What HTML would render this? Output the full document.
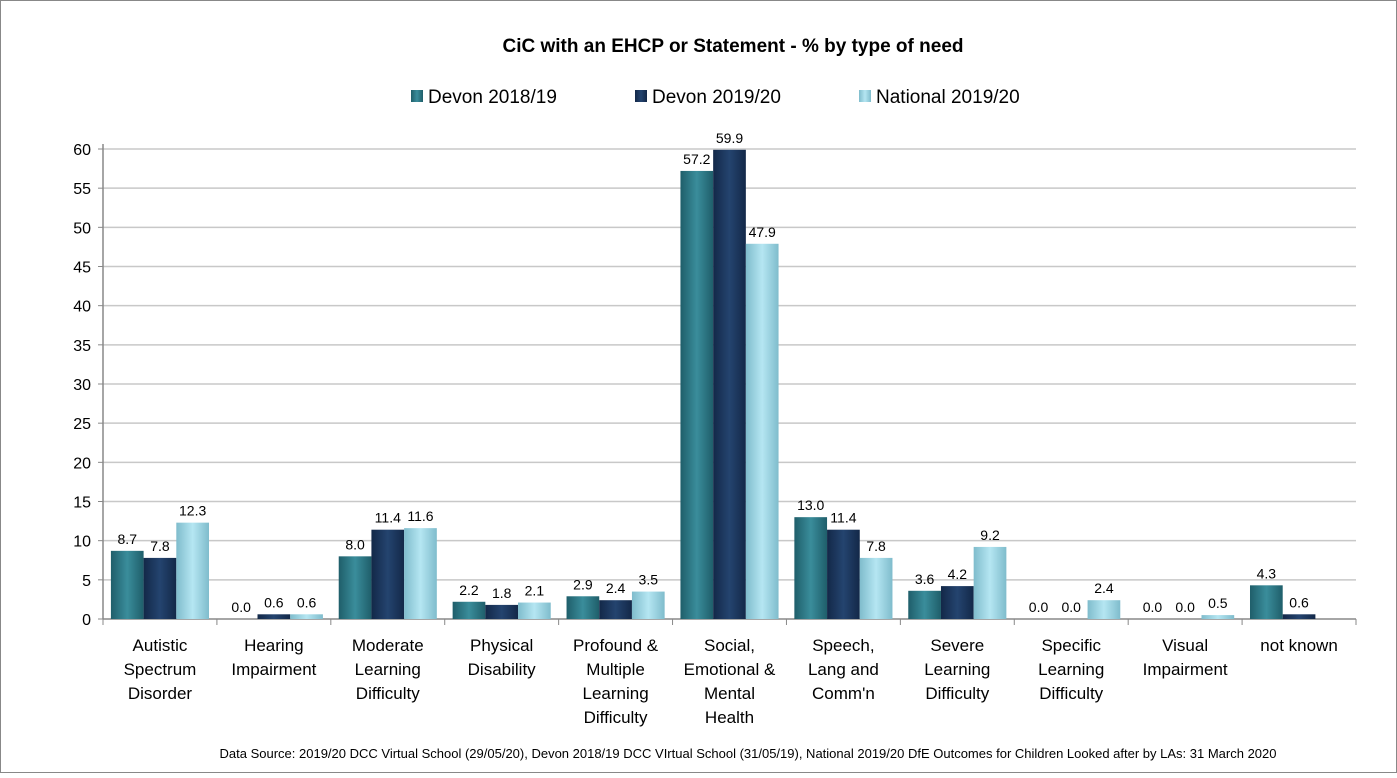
<!DOCTYPE html>
<html><head><meta charset="utf-8"><style>
body{margin:0;background:#fff;font-family:"Liberation Sans",sans-serif;}
svg text{font-family:"Liberation Sans",sans-serif;}
</style></head><body>
<svg id="chart" width="1397" height="773" viewBox="0 0 1397 773" xmlns="http://www.w3.org/2000/svg">
<defs>
<linearGradient id="g0" x1="0" x2="1" y1="0" y2="0"><stop offset="0" stop-color="#1f5e6a"/><stop offset="0.5" stop-color="#3a8d9b"/><stop offset="1" stop-color="#1f5e6a"/></linearGradient>
<linearGradient id="g1" x1="0" x2="1" y1="0" y2="0"><stop offset="0" stop-color="#132848"/><stop offset="0.5" stop-color="#24446f"/><stop offset="1" stop-color="#132848"/></linearGradient>
<linearGradient id="g2" x1="0" x2="1" y1="0" y2="0"><stop offset="0" stop-color="#7fbccc"/><stop offset="0.5" stop-color="#b5e6f2"/><stop offset="1" stop-color="#7fbccc"/></linearGradient>
</defs>
<rect x="0.5" y="0.5" width="1396" height="772" fill="#fff" stroke="#888"/>
<text x="733" y="52" text-anchor="middle" font-size="19" font-weight="bold" fill="#000">CiC with an EHCP or Statement - % by type of need</text>
<g id="legend"></g>
<g id="grid"></g>
<g id="bars"></g>
<text x="748" y="758" text-anchor="middle" font-size="13" fill="#000">Data Source: 2019/20 DCC Virtual School (29/05/20), Devon 2018/19 DCC VIrtual School (31/05/19), National 2019/20  DfE Outcomes for Children Looked after by LAs: 31 March 2020</text>
</svg>
<script>
const categories=[["Autistic","Spectrum","Disorder"],["Hearing","Impairment"],["Moderate","Learning","Difficulty"],["Physical","Disability"],["Profound &","Multiple","Learning","Difficulty"],["Social,","Emotional &","Mental","Health"],["Speech,","Lang and","Comm'n"],["Severe","Learning","Difficulty"],["Specific","Learning","Difficulty"],["Visual","Impairment"],["not known"]];
const seriesNames=["Devon 2018/19","Devon 2019/20","National 2019/20"];
const devon1819=[8.7,0.0,8.0,2.2,2.9,57.2,13.0,3.6,0.0,0.0,4.3];
const devon1920=[7.8,0.6,11.4,1.8,2.4,59.9,11.4,4.2,0.0,0.0,0.6];
const national1920=[12.3,0.6,11.6,2.1,3.5,47.9,7.8,9.2,2.4,0.5,null];
const yTicks=[0,5,10,15,20,25,30,35,40,45,50,55,60];
const NS="http://www.w3.org/2000/svg";
const X0=103,X1=1356,Y0=619,Y1=149,YMAX=60;
const catW=(X1-X0)/categories.length;
function y(v){return Y0-(v/YMAX)*(Y0-Y1);}
function xc(i){return X0+catW*(i+0.5);}
function mk(tag,attrs,parent){const e=document.createElementNS(NS,tag);for(const k in attrs)e.setAttribute(k,attrs[k]);parent.appendChild(e);return e;}
const grid=document.getElementById('grid'),bars=document.getElementById('bars'),legend=document.getElementById('legend');
yTicks.forEach(t=>{
  const l=mk('line',{x1:X0,x2:X1,y1:y(t),y2:y(t),stroke:t===0?'#888':'#c8c8c8','stroke-width':t===0?1.5:1.5},grid);
  
  
  const tk=mk('line',{x1:X0-5,x2:X0,y1:y(t),y2:y(t),stroke:'#888'},grid);
  
  
  const tx=mk('text',{x:X0-12,y:y(t)+6,'text-anchor':'end','font-size':16,fill:'#000'},grid);
  tx.textContent=t;
  
  
});
const ax=mk('line',{x1:X0,x2:X0,y1:Y1-5,y2:Y0,stroke:'#888','stroke-width':1.5},grid);


for(let i=0;i<=categories.length;i++){
  const t=mk('line',{x1:X0+catW*i,x2:X0+catW*i,y1:Y0,y2:Y0+6,stroke:'#888'},grid);
  
  
}
const series=[devon1819,devon1920,national1920];
const bw=32.7;
categories.forEach((c,i)=>{
  series.forEach((s,j)=>{
    const v=s[i]; if(v===null) return;
    const bx=xc(i)-1.5*bw+j*bw;
    if(v>0){
      const r=mk('rect',{x:bx,y:y(v),width:bw,height:Y0-y(v),fill:'url(#g'+j+')'},bars);
      
      
    }
    const lb=mk('text',{x:bx+bw/2,y:y(v)-7,'text-anchor':'middle','font-size':14,fill:'#000'},bars);
    lb.textContent=v.toFixed(1);
    
    
  });
  const ct=mk('text',{x:xc(i),'text-anchor':'middle','font-size':17,fill:'#000'},bars);
  
  
  c.forEach((ln,k)=>{const ts=mk('tspan',{x:xc(i),y:651+k*24},ct);ts.textContent=ln;});
});
const lx=[411,635,859];
seriesNames.forEach((n,j)=>{
  const r=mk('rect',{x:lx[j],y:90,width:12,height:12,fill:'url(#g'+j+')'},legend);
  
  
  const t=mk('text',{x:lx[j]+17,y:103,'font-size':19,fill:'#000'},legend);
  t.textContent=n;
  
  
});
</script>
</body></html>
